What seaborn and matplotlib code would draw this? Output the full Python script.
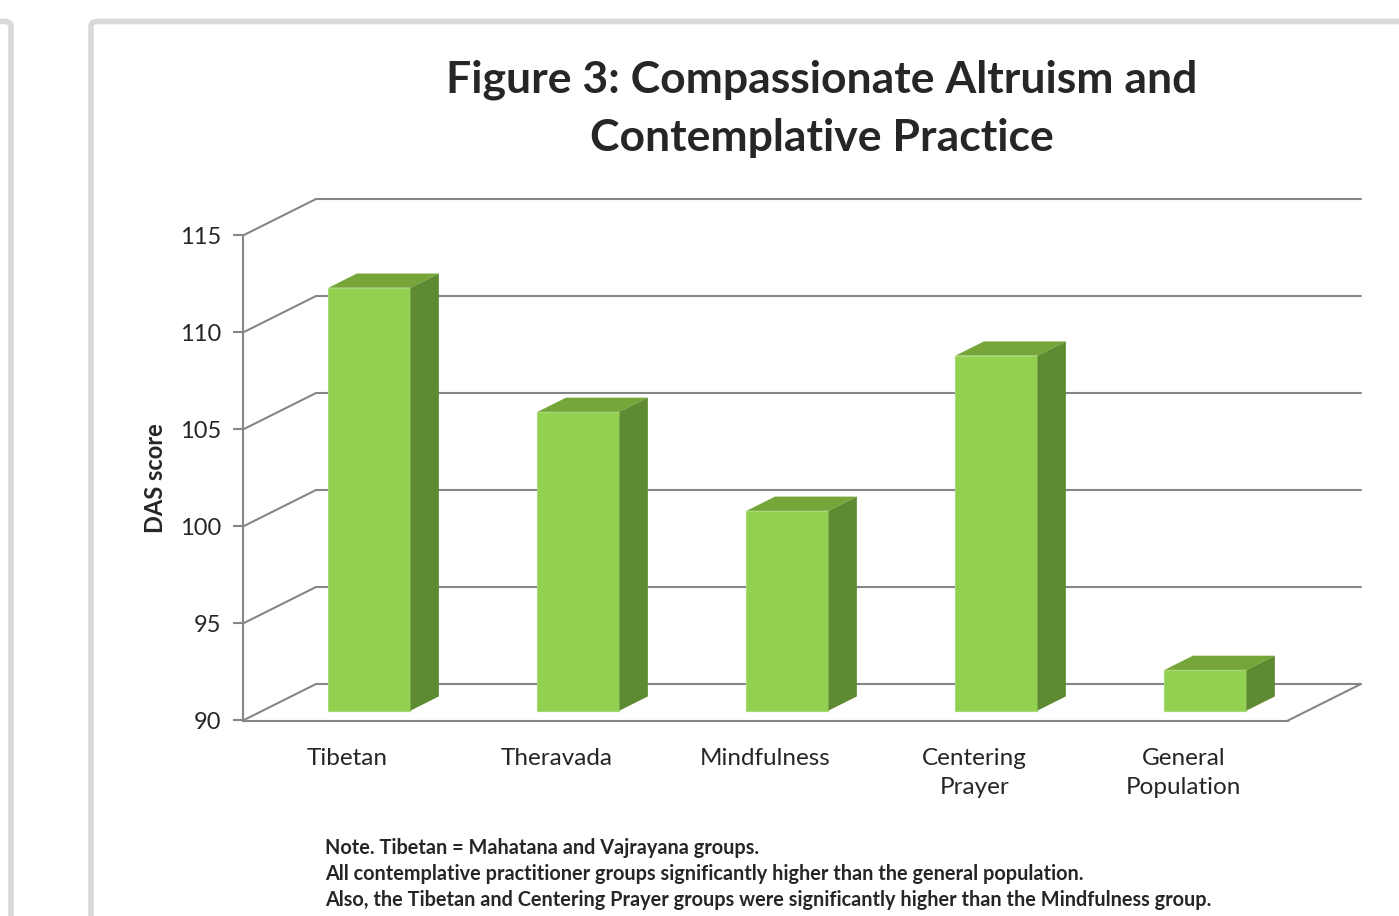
import matplotlib
matplotlib.use("Agg")
import matplotlib.pyplot as plt
from matplotlib.patches import Polygon, FancyBboxPatch
import seaborn as sns
import pandas as pd

# donnees
groups = ["Tibetan", "Theravada", "Mindfulness", "Centering\nPrayer", "General\nPopulation"]
das_scores = [111.8, 105.4, 100.3, 108.3, 92.1]
y_ticks = [90, 95, 100, 105, 110, 115]
title_lines = ["Figure 3: Compassionate Altruism and", "Contemplative Practice"]
notes = [
    "Note. Tibetan = Mahatana and Vajrayana groups.",
    "All contemplative practitioner groups significantly higher than the general population.",
    "Also, the Tibetan and Centering Prayer groups were significantly higher than the Mindfulness group.",
]

FRONT = "#92D050"
TOP = "#76A63A"
SIDE = "#5E8A31"
GRID = "#868686"
BORDER = "#D9D9D9"

sns.set_theme(style="white")
plt.rcParams["font.family"] = ["Lato", "DejaVu Sans"]

W, H = 1399, 916
fig = plt.figure(figsize=(W / 100, H / 100), dpi=100)

# cadres des panneaux
fig.patches.append(FancyBboxPatch((91 / W, -0.05), 1.2, (916 - 21.5) / H + 0.05, boxstyle="round,pad=0,rounding_size=0.005",
                                  transform=fig.transFigure, fill=False, edgecolor=BORDER, linewidth=4))
fig.patches.append(FancyBboxPatch((-0.2, -0.05), 0.2 + 11 / W, (916 - 21.5) / H + 0.05, boxstyle="round,pad=0,rounding_size=0.005",
                                  transform=fig.transFigure, fill=False, edgecolor=BORDER, linewidth=4))

ax = fig.add_axes([243 / W, (916 - 720.5) / H, 1045 / W, 485 / H])
df = pd.DataFrame({"group": groups, "score": das_scores})

ymin, ymax = y_ticks[0], y_ticks[-1]
dx, dy = 0.349, 1.88        # profondeur totale (perspective)
f0, bd = 0.27, 0.39         # position et profondeur des barres
bw = 0.392                  # largeur des barres
shift_x = 0.105             # decalage horizontal de la face avant

# murs et grille
x0, x1 = -0.5, len(groups) - 0.5
for v in y_ticks:
    ax.plot([x0 + dx, x1 + dx], [v + dy, v + dy], color=GRID, lw=1.5, clip_on=False, zorder=1)
    ax.plot([x0, x0 + dx], [v, v + dy], color=GRID, lw=1.5, clip_on=False, zorder=1)
ax.plot([x1, x1 + dx], [ymin, ymin + dy], color=GRID, lw=1.5, clip_on=False, zorder=1)

sns.barplot(data=df, x="group", y="score", color=FRONT, width=bw, saturation=1, ax=ax, zorder=3)

for patch, val in zip(ax.patches, das_scores):
    patch.set_x(patch.get_x() + shift_x)
    patch.set_y(ymin + f0 * dy)
    patch.set_height(val - ymin)
    patch.set_clip_on(False)
    patch.set_edgecolor("#A6DA73")
    patch.set_linewidth(0.8)
    bx0 = patch.get_x()
    bx1 = bx0 + patch.get_width()
    yb = patch.get_y()
    yt = yb + patch.get_height()
    ox, oy = bd * dx, bd * dy
    ax.add_patch(Polygon([(bx0, yt), (bx1, yt), (bx1 + ox, yt + oy), (bx0 + ox, yt + oy)],
                         closed=True, facecolor=TOP, edgecolor="none", clip_on=False, zorder=3))
    ax.add_patch(Polygon([(bx1, yb), (bx1, yt), (bx1 + ox, yt + oy), (bx1 + ox, yb + oy)],
                         closed=True, facecolor=SIDE, edgecolor="none", clip_on=False, zorder=3))

ax.set_xlim(x0, x1)
ax.set_ylim(ymin, ymax)
ax.set_yticks(y_ticks)
ax.set_yticklabels([str(t) for t in y_ticks], fontsize=17)
ax.tick_params(axis="y", length=7, width=1.5, color=GRID, pad=9, left=True)
ax.tick_params(axis="x", length=0, pad=20)
for lab in ax.get_xticklabels():
    lab.set_fontsize(17.5)
    lab.set_linespacing(1.45)
ax.set_xlabel("")
ax.set_ylabel("DAS score", fontsize=17, fontweight="bold", labelpad=9)
ax.set_facecolor("none")
for side in ["top", "right"]:
    ax.spines[side].set_visible(False)
for side in ["left", "bottom"]:
    ax.spines[side].set_color(GRID)
    ax.spines[side].set_linewidth(1.5)
    ax.spines[side].set_zorder(2)

for i, line in enumerate(title_lines):
    fig.text(822 / W, 1 - (80 + 58 * i) / H, line, ha="center", va="center", fontsize=32, fontweight="bold")

for i, line in enumerate(notes):
    fig.text(325 / W, 1 - (848 + 26 * i) / H, line, ha="left", va="center", fontsize=14.3, fontweight="bold")

fig.savefig("out.png", dpi=100)
